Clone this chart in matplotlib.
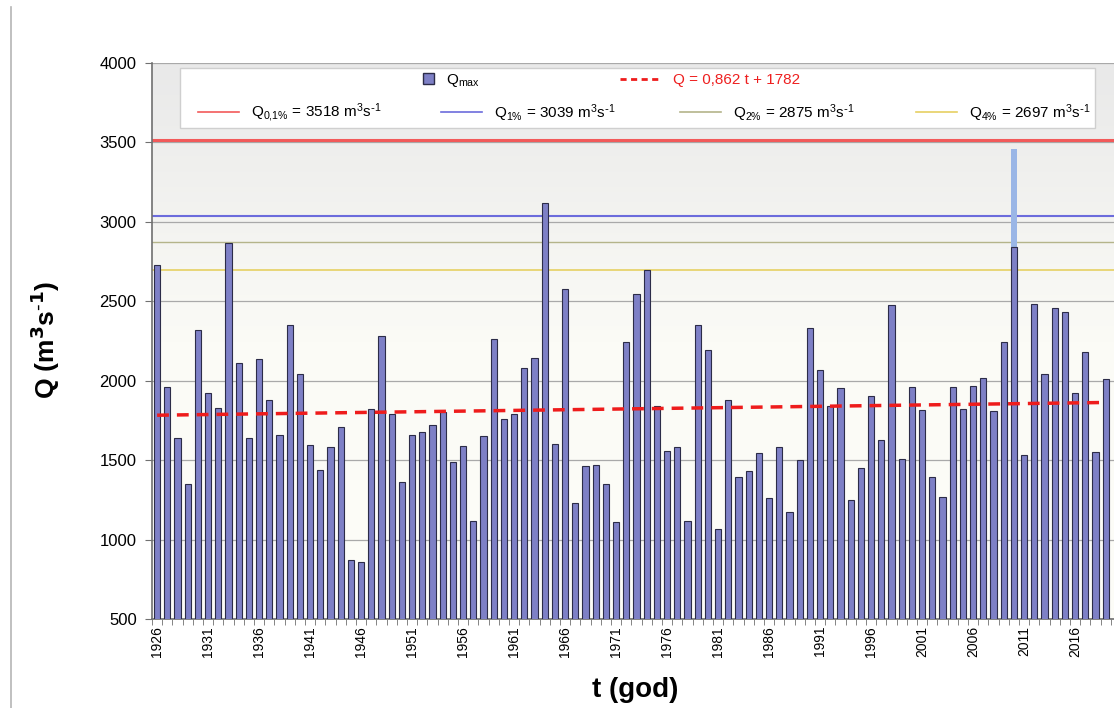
import numpy as np
import matplotlib
matplotlib.use('Agg')
import matplotlib.pyplot as plt
from matplotlib.lines import Line2D
from matplotlib.patches import Patch, Rectangle
from matplotlib.legend import Legend
from matplotlib.colors import LinearSegmentedColormap

plt.rcParams['font.family'] = ['Liberation Sans', 'DejaVu Sans']
plt.rcParams['mathtext.default'] = 'regular'

# annual maximum discharge, 1926-2019
years = list(range(1926, 2020))
q_max = [2730, 1960, 1640, 1350, 2320, 1920, 1830, 2870, 2110, 1640,
         2135, 1880, 1660, 2350, 2045, 1595, 1440, 1580, 1710, 870,
         860, 1820, 2280, 1790, 1360, 1660, 1680, 1720, 1800, 1490,
         1590, 1120, 1650, 2260, 1760, 1790, 2080, 2140, 3120, 1600,
         2580, 1230, 1460, 1470, 1350, 1110, 2245, 2545, 2700, 1840,
         1560, 1580, 1115, 2350, 2195, 1065, 1880, 1395, 1430, 1545,
         1260, 1580, 1175, 1500, 2330, 2070, 1840, 1955, 1250, 1450,
         1905, 1625, 2475, 1505, 1960, 1815, 1395, 1265, 1960, 1825,
         1965, 2020, 1810, 2245, 2840, 1530, 2485, 2045, 2460, 2435,
         1920, 2180, 1550, 2010]

# 2010 flood (light bar behind)
peak_year = [2010]
peak_value = [3460]

# return-period discharges
q_names = ['0{,}1', '1', '2', '4']
q_values = [3518, 3039, 2875, 2697]
q_colors = ['#f25a5a', '#6c6cdc', '#b4b48a', '#e6d062']
q_widths = [2.2, 1.5, 1.0, 1.2]

# linear trend Q = 0.862 t + 1782, t = 1 for 1926
slope, intercept = 0.862, 1782
t = np.arange(1, len(years) + 1)
trend = slope * t + intercept

bar_color = '#7e80c6'
bar_edge = '#2c2c48'
unit = r' m$^3$s$^{\text{-}1}$'

fig = plt.figure(figsize=(11.14, 7.08), dpi=100)
ax = fig.add_axes([152 / 1114, 89 / 708, 969 / 1114, 556 / 708])

# plot background gradient
bg = LinearSegmentedColormap.from_list('bg', ['#fdfdf8', '#fbfbf6', '#e9e9e9'])
ax.imshow(np.linspace(0, 1, 256).reshape(-1, 1), extent=[1925.5, 2020.5, 500, 4000],
          aspect='auto', cmap=bg, origin='lower', zorder=0)

ax.yaxis.grid(True, color='#a9a9a9', lw=0.9)
ax.set_axisbelow(True)

for v, c, w in zip(q_values, q_colors, q_widths):
    ax.axhline(v, color=c, lw=w, zorder=2)

ax.bar(peak_year, peak_value, width=0.6, color='#9ab6e6', edgecolor='none', zorder=2.5)
ax.bar(years, q_max, width=0.6, color=bar_color, edgecolor=bar_edge, lw=0.8, zorder=3)

ax.plot(years, trend, color='#ee1c1c', ls=(0, (3.4, 2.3)), lw=2.5, zorder=4)

ax.set_xlim(1925.5, 2020.5)
ax.set_ylim(500, 4000)
ax.set_yticks(np.arange(500, 4001, 500))
ax.set_xticks(np.arange(1926, 2020, 5))
ax.set_xticks(np.arange(1925.5, 2020, 1), minor=True)
ax.tick_params(axis='x', which='major', length=0, labelsize=10, labelrotation=90, pad=5)
ax.tick_params(axis='x', which='minor', length=4, color='#707070')
ax.tick_params(axis='y', length=5, color='#707070', labelsize=12, pad=6)
for s in ['top', 'right']:
    ax.spines[s].set_visible(False)
for s in ['left', 'bottom']:
    ax.spines[s].set_color('#707070')
    ax.spines[s].set_linewidth(1.2)

# legend box
ax.add_patch(Rectangle((0.029, 0.883), 0.944, 0.108, transform=ax.transAxes,
                       fc='white', ec='#cfcfcf', lw=1, zorder=5))

leg_kw = dict(frameon=False, fontsize=11, borderpad=0, handletextpad=0.8, loc='center left')
row1 = 0.969
row2 = 0.910


def add_legend(handle, label, x_px, y, **kw):
    leg = Legend(ax, [handle], [label], bbox_to_anchor=((x_px - 152) / 969, y), **leg_kw, **kw)
    leg.set_zorder(6)
    ax.add_artist(leg)


add_legend(Patch(facecolor=bar_color, edgecolor=bar_edge), 'Q$_{max}$', 415, row1,
           handlelength=0.75, handleheight=0.75)
add_legend(Line2D([], [], color='#ee1c1c', ls=(0, (2.2, 1.6)), lw=2), 'Q = 0,862 t + 1782',
           612, row1, handlelength=2.7, labelcolor='#ee2020')

x_starts = [190, 433, 672, 908]
for name, v, c, x0 in zip(q_names, q_values, q_colors, x_starts):
    add_legend(Line2D([], [], color=c, lw=1.2),
               'Q$_{' + name + r'\%}$ = ' + str(v) + unit, x0, row2, handlelength=2.7)

fig.text(0.041, 0.52, r'Q (m$^{\mathbf{3}}$s$^{\mathbf{\text{-}1}}$)', rotation=90, fontsize=19,
         fontweight='bold', ha='center', va='center')
fig.text(0.570, 0.026, 't (god)', fontsize=20, fontweight='bold', ha='center', va='center')

fig.add_artist(Line2D([11 / 1114, 11 / 1114], [0, 0.99], color='#b5b5b5', lw=1.2))

fig.savefig('out.png', dpi=100)
